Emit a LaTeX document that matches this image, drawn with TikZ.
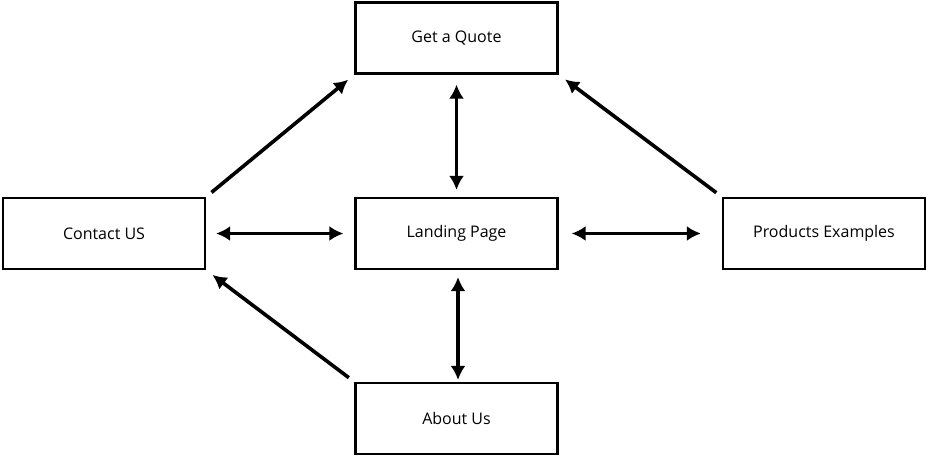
\documentclass[tikz,border=0pt]{standalone}
\usepackage{fontspec}
\setmainfont{Open Sans}
\usetikzlibrary{arrows.meta}

\begin{document}
\begin{tikzpicture}[
  x=1pt, y=1pt,
  page/.style={draw, line width=2.2pt, minimum width=202pt, minimum height=71pt, font=\fontsize{16}{19}\selectfont},
  link/.style={line width=3.6pt, -{Latex[length=14pt,width=15pt]}, shorten <=7pt, shorten >=8pt},
  both/.style={link, {Latex[length=14pt,width=15pt]}-{Latex[length=14pt,width=15pt]}}
]
\useasboundingbox (0,0) rectangle (928,459);
\node[page] (quote) at (456.5,421) {Get a Quote};
\node[page] (contact) at (104,225.5) {Contact US};
\node[page] (landing) at (456.5,225.5) {Landing Page};
\node[page] (products) at (824,225.5) {Products Examples};
\node[page] (about) at (456.5,40.5) {About Us};

\draw[link] (contact.north east) -- (quote.south west);
\draw[link] (products.north west) -- (quote.south east);
\draw[link] (about.north west) -- (contact.south east);
\draw[both, shorten <=10pt, shorten >=7pt] (quote) -- (landing);
\draw[both, shorten <=10pt, shorten >=11pt] (contact) -- (landing);
\draw[both, shorten <=13pt, shorten >=21pt] (landing) -- (products);
\draw[both, shorten <=7pt, shorten >=2pt] ([xshift=1.5pt]landing.south) -- ([xshift=1.5pt]about.north);
\end{tikzpicture}
\end{document}
